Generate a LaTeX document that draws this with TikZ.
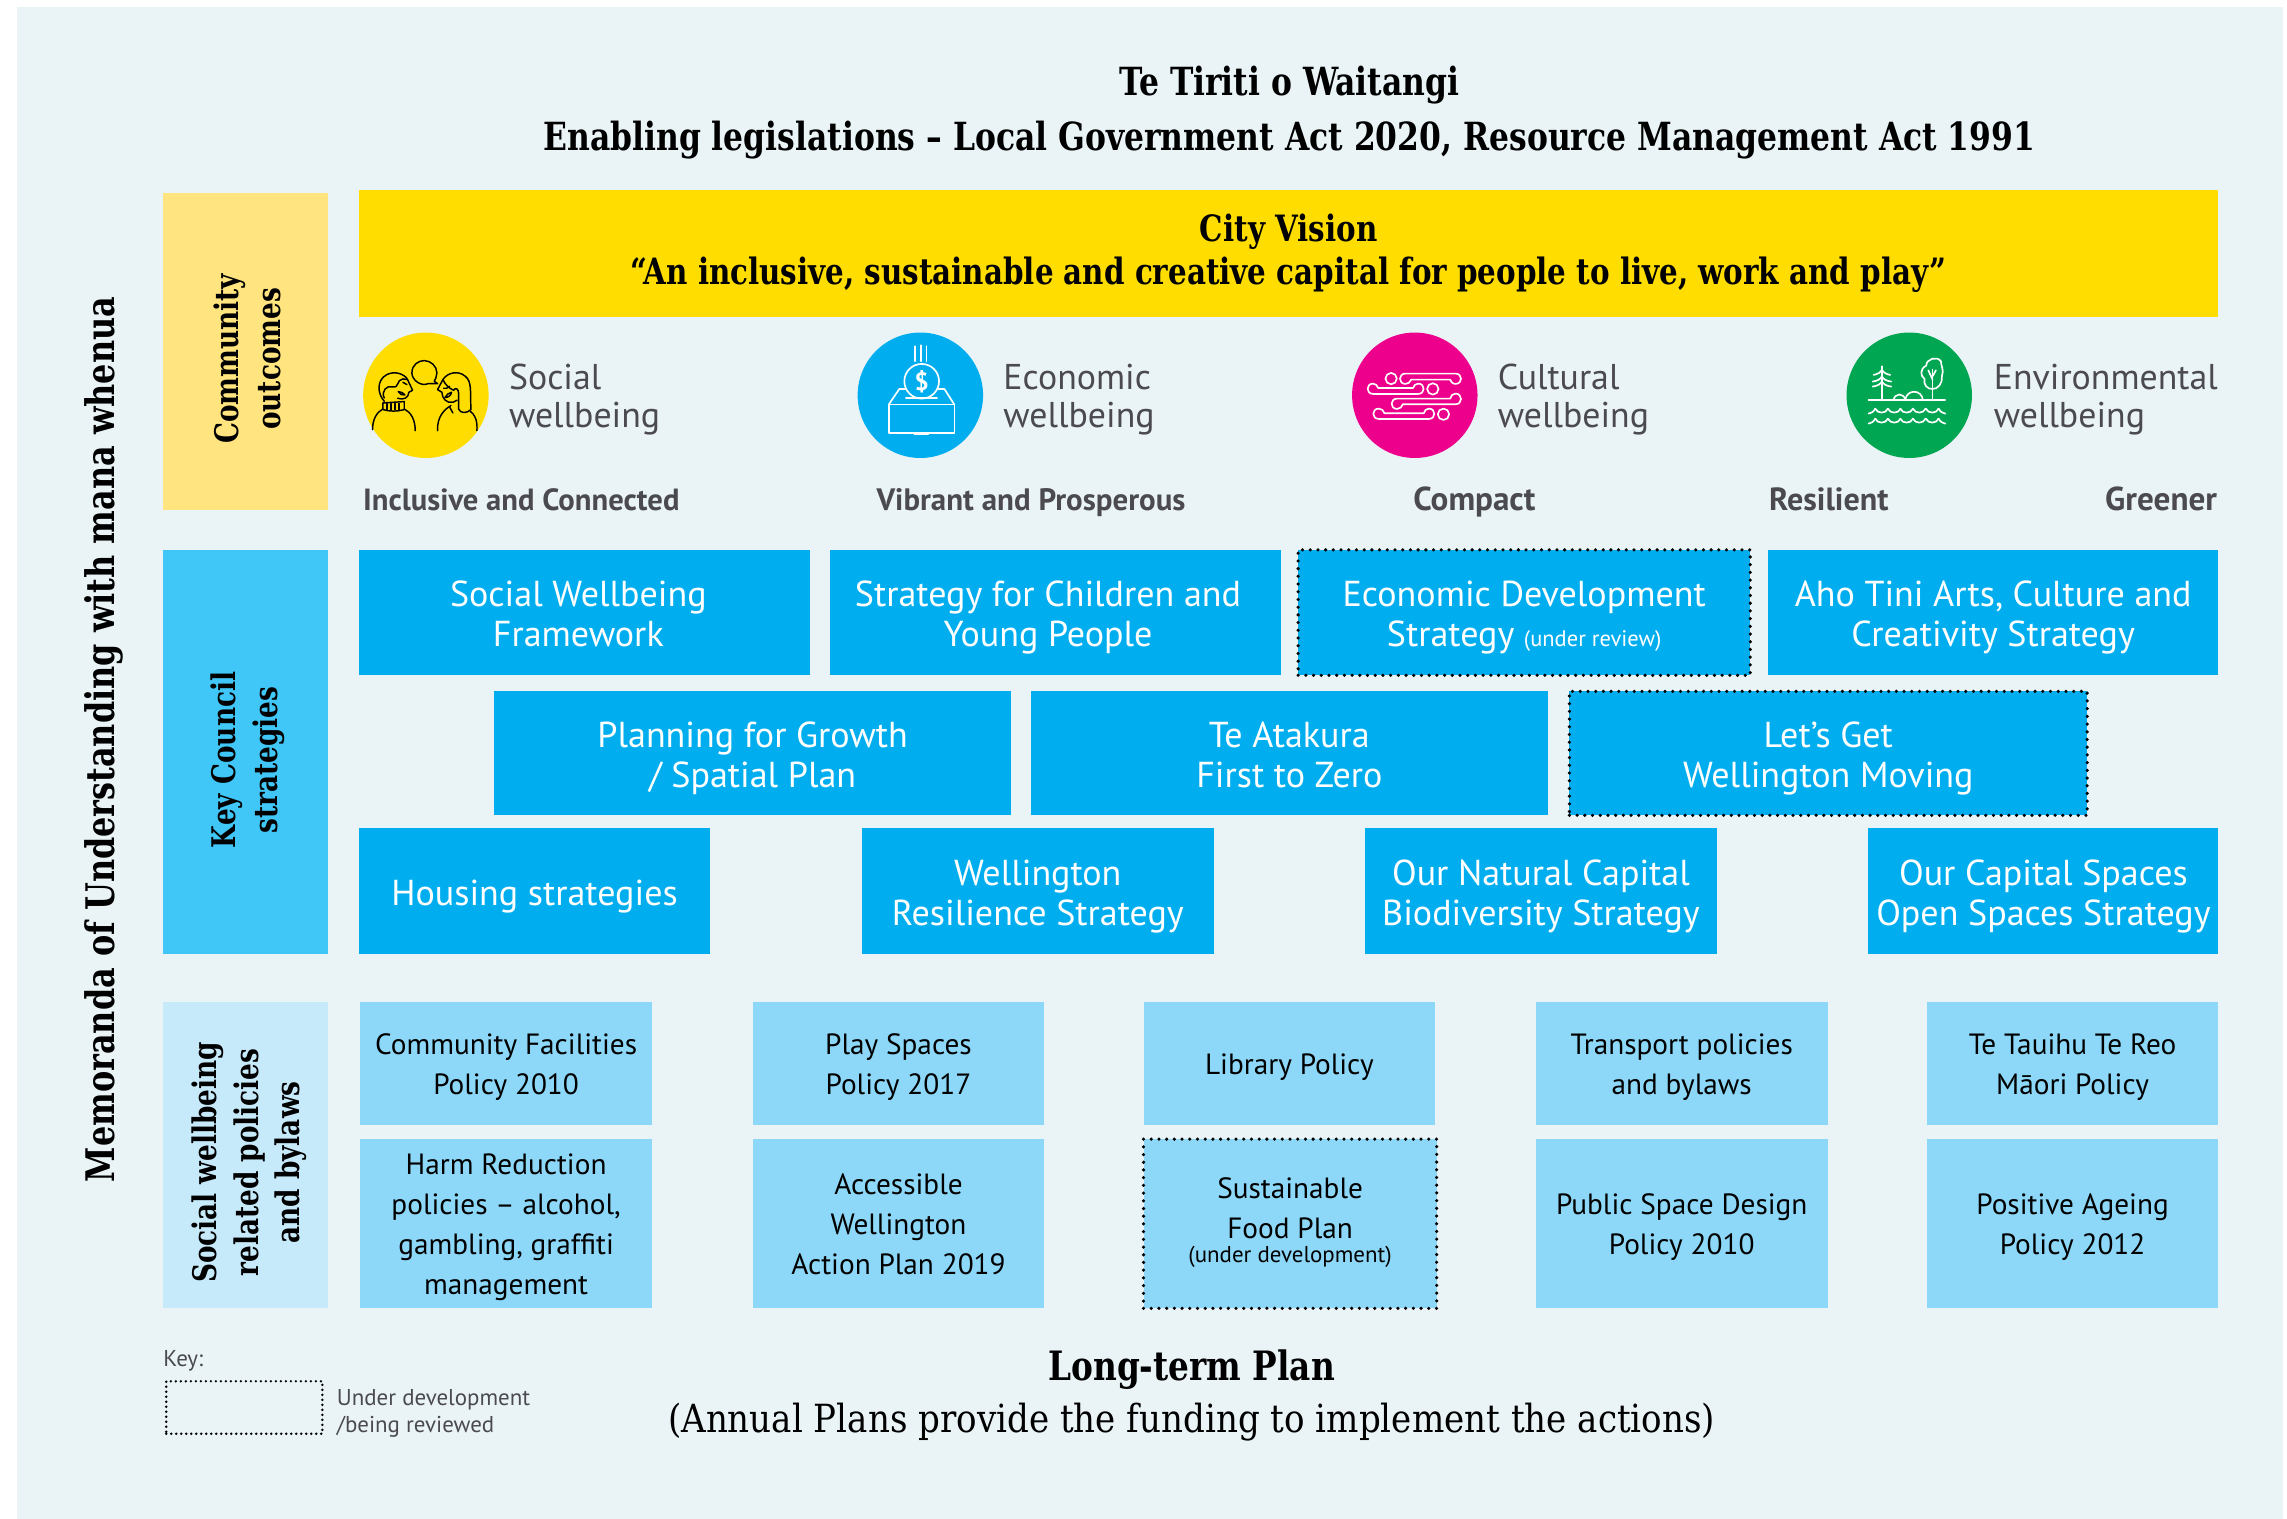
\documentclass[tikz,border=0pt]{standalone}
\usepackage{fontspec}
\setmainfont{PT Sans}
\newfontfamily\ser[FakeStretch=0.81]{DejaVu Serif}
\newfontfamily\serr[FakeStretch=0.88]{DejaVu Serif}
\definecolor{bgc}{HTML}{EAF4F7}
\definecolor{visionc}{HTML}{FFDD00}
\definecolor{commc}{HTML}{FFE480}
\definecolor{bluec}{HTML}{00AEEF}
\definecolor{keyc}{HTML}{41C6F8}
\definecolor{polc}{HTML}{8DD8F8}
\definecolor{sidec}{HTML}{C7EAFB}
\definecolor{pinkc}{HTML}{EC008C}
\definecolor{greenc}{HTML}{00A651}
\definecolor{greyt}{HTML}{4A4A4F}
\newcommand{\fsz}[2]{\fontsize{#1}{#2}\selectfont}
\newcommand{\bxH}{0pt}
\newcommand{\bxD}{0pt}
\newcommand{\bx}[7]{%
  \pgfmathsetmacro{\cxx}{(#3+#5)/2}\pgfmathsetmacro{\cyy}{(#4+#6)/2}%
  \pgfmathsetmacro{\wdd}{(#5-#3)*0.7}\pgfmathsetmacro{\htt}{(#6-#4)*0.7}%
  \node[#2,minimum width=\wdd pt,minimum height=\htt pt] (#1) at (\cxx,\cyy) {\rule{0pt}{\bxH}#7\rule[-\bxD]{0pt}{\bxD}};}
\tikzset{
  base/.style={inner sep=0pt,outer sep=0pt,align=center,anchor=center},
  strat/.style={base,fill=bluec,text=white,font=\fsz{17.3}{19.2}\renewcommand{\bxH}{17.5pt}\renewcommand{\bxD}{4.2pt}},
  pol/.style={base,fill=polc,text=black,font=\fsz{14.05}{19.2}\renewcommand{\bxH}{15.3pt}\renewcommand{\bxD}{4.5pt}},
  dots/.style={draw=black,line width=1.7pt,line cap=round,dash pattern=on 0pt off 3.7pt},
  side/.style={base,font=\ser\bfseries\fsz{15.6}{20},rotate=90},
  well/.style={inner sep=0pt,outer sep=0pt,anchor=west,align=left,text=greyt,font=\fsz{17.2}{18.3}},
  ben/.style={inner sep=0pt,outer sep=0pt,text=greyt,font=\bfseries\fsz{14.9}{16}},
  ttl/.style={inner sep=0pt,outer sep=0pt,text=black},
  ico/.style={line width=0.8pt,line cap=round,line join=round},
}
\begin{document}
\begin{tikzpicture}[x=0.7pt,y=-0.7pt]
\useasboundingbox (0,0) rectangle (1568,1041.4);
\fill[white] (0,0) rectangle (1568,1041.4);
\fill[bgc] (11.6,4.8) rectangle (1565.4,1041.4);
% titles
\node[ttl,font=\ser\bfseries\fsz{18.6}{20}] (t1) at (884,58) {Te Tiriti o Waitangi};
\node[ttl,font=\ser\bfseries\fsz{18.6}{20}] (t2) at (884,96) {Enabling legislations – Local Government Act 2020, Resource Management Act 1991};
\node[ttl,rotate=90,font=\ser\bfseries\fsz{18.9}{20}] (mem) at (71,507) {Memoranda of Understanding with mana whenua};
% left bands
\bx{comm}{base,fill=commc}{112}{132}{225}{350}{}
\bx{keyb}{base,fill=keyc}{112}{377}{225}{654}{}
\bx{socb}{base,fill=sidec}{112}{687}{225}{897}{}
\node[side] (commt) at (169.5,246) {Community\\outcomes};
\node[side] (keyt) at (170,521) {Key Council\\strategies};
\node[side] (soct) at (171,797) {Social wellbeing\\related policies\\and bylaws};
% vision
\bx{vis}{base,fill=visionc,font=\ser\bfseries\fsz{17.4}{20.6}}{246}{130}{1521}{217}{City Vision\\“An inclusive, sustainable and creative capital for people to live, work and play”}
% circles
\node[base,circle,fill=visionc,minimum size=60.2pt] (c1) at (292,271) {};
\node[base,circle,fill=bluec,minimum size=60.2pt] (c2) at (631,271) {};
\node[base,circle,fill=pinkc,minimum size=60.2pt] (c3) at (970,271) {};
\node[base,circle,fill=greenc,minimum size=60.2pt] (c4) at (1309,271) {};
% icon: people
\begin{scope}[shift={(292,271)},x=0.16pt,y=-0.16pt,shift={(-197,-197)},ico,draw=black,line width=0.7pt]
\draw (205,162) .. controls (180,172) and (155,150) .. (155,130) .. controls (155,105) and (175,93) .. (192,93) .. controls (212,93) and (230,110) .. (230,130) .. controls (230,140) and (225,150) .. (222,155) -- (232,162) -- cycle;
\draw (37,300) .. controls (37,268) and (50,248) .. (68,238);
\draw (132,238) .. controls (152,248) and (165,270) .. (165,303);
\draw (68,220) -- (132,216) -- (132,240) .. controls (110,246) and (90,246) .. (68,240) -- cycle;
\foreach \xx in {80,92,104,116}{\draw (\xx,222) -- (\xx,240);}
\draw (72,215) .. controls (50,190) and (50,150) .. (80,135) .. controls (105,122) and (135,135) .. (142,150) -- (157,182) -- (146,188) .. controls (145,205) and (130,212) .. (112,206);
\draw (72,205) .. controls (62,185) and (80,165) .. (98,172) .. controls (118,175) and (108,150) .. (128,148) -- (142,150);
\draw (128,158) -- (140,165);
\draw[fill=none] (114,186) .. controls (122,186) and (130,190) .. (134,196) .. controls (126,198) and (118,194) .. (114,186) -- cycle;
\draw (232,303) .. controls (230,265) and (250,240) .. (272,228);
\draw (330,245) .. controls (345,255) and (352,275) .. (350,303);
\draw (248,150) .. controls (262,128) and (295,122) .. (315,140) .. controls (335,155) and (330,185) .. (332,240) .. controls (320,252) and (300,252) .. (295,238) -- (295,190) .. controls (295,178) and (285,172) .. (280,182) .. controls (265,175) and (255,165) .. (248,150) -- (232,180) -- (245,188) .. controls (245,205) and (258,222) .. (278,218) -- (290,212);
\draw (250,176) .. controls (256,178) and (262,176) .. (268,170);
\draw (254,204) .. controls (258,195) and (266,190) .. (274,188) .. controls (272,198) and (264,204) .. (254,204) -- cycle;
\draw (268,232) -- (278,250);
\end{scope}
% icon: economic
\begin{scope}[shift={(631,271)},x=0.16pt,y=-0.16pt,shift={(-208,-197)},ico,draw=white]
\draw (191,50) -- (191,95) (209,47) -- (209,95) (226,50) -- (226,95);
\draw (212,155) circle [radius=52];
\node[base,text=white,font=\bfseries\fsz{12}{12}] (dollar) at (212,155) {\$};
\draw (113,225) rectangle (310,310);
\draw (113,225) -- (145,178) -- (165,178);
\draw (260,178) -- (280,178) -- (310,225);
\draw (165,205) -- (258,205);
\draw[line width=1.2pt] (190,312) -- (232,312);
\end{scope}
% icon: cultural
\begin{scope}[shift={(970,271)},x=0.16pt,y=-0.16pt,shift={(-208,-197)},ico,draw=white]
\draw (137,147) circle [radius=17] (262,178) circle [radius=17] (294,254) circle [radius=17];
\draw (180,132) -- (330,132) .. controls (352,132) and (352,163) .. (330,163) .. controls (320,163) and (316,155) .. (314,150) -- (197,150) .. controls (194,158) and (188,163) .. (180,163) .. controls (158,163) and (158,132) .. (180,132) -- cycle;
\draw (83,193) -- (218,193) .. controls (240,193) and (240,162) .. (218,162) .. controls (210,162) and (205,168) .. (203,175) -- (98,175) .. controls (96,168) and (90,162) .. (83,162) .. controls (61,162) and (61,193) .. (83,193) -- cycle;
\draw (155,207) -- (314,207) .. controls (316,198) and (322,192) .. (330,192) .. controls (352,192) and (352,224) .. (330,224) -- (172,224) .. controls (170,232) and (163,238) .. (155,238) .. controls (133,238) and (133,207) .. (155,207) -- cycle;
\draw (100,268) -- (250,268) .. controls (272,268) and (272,237) .. (250,237) .. controls (242,237) and (237,243) .. (235,251) -- (117,251) .. controls (115,243) and (108,237) .. (100,237) .. controls (78,237) and (78,268) .. (100,268) -- cycle;
\end{scope}
% icon: environmental
\begin{scope}[shift={(1309,271)},x=0.16pt,y=-0.16pt,shift={(-207,-197)},ico,draw=white]
\draw (85,212) -- (315,212);
\draw (125,110) -- (125,212);
\foreach \yy/\dd in {120/25,140/28,155/28}{
  \draw (125,\yy) .. controls (122,{\yy+8}) and (112,{\yy+14}) .. ({125-\dd},{\yy+16});
  \draw (125,\yy) .. controls (128,{\yy+8}) and (138,{\yy+14}) .. ({125+\dd},{\yy+16});}
\draw (160,212) .. controls (162,190) and (192,188) .. (195,212);
\draw (195,212) .. controls (198,178) and (245,178) .. (248,212);
\draw (277,120) -- (277,212);
\draw (277,150) -- (264,122) (277,140) -- (287,122);
\draw (277,178) .. controls (262,180) and (248,165) .. (253,148) .. controls (240,140) and (238,118) .. (258,108) .. controls (258,88) and (290,78) .. (302,95) .. controls (302,110) and (312,120) .. (305,140) .. controls (308,160) and (292,180) .. (277,178) -- cycle;
\foreach \yy in {0,30}{
\begin{scope}[yshift={-\yy*0.16pt}]
\draw (85,252) .. controls (92,251) and (100,247) .. (105,237);
\foreach \xx in {105,143,180,218,257}{
  \draw (\xx,237) .. controls ({\xx+6},253) and ({\xx+32},253) .. ({\xx+38},237);}
\draw (295,237) .. controls (300,247) and (308,251) .. (315,252);
\end{scope}}
\end{scope}
% wellbeing labels
\node[well] (w1) at (349,274) {Social\\wellbeing};
\node[well] (w2) at (688,274) {Economic\\wellbeing};
\node[well] (w3) at (1027,274) {Cultural\\wellbeing};
\node[well] (w4) at (1367,274) {Environmental\\wellbeing};
\node[ben,anchor=base west,font=\bfseries\fsz{14.7}{16}] (b1) at (249,350) {Inclusive and Connected};
\node[ben,anchor=base west,font=\bfseries\fsz{14.85}{16}] (b2) at (601,350) {Vibrant and Prosperous};
\node[ben,anchor=base west,font=\bfseries\fsz{15.9}{16}] (b3) at (969,350) {Compact};
\node[ben,anchor=base west,font=\bfseries\fsz{15.4}{16}] (b4) at (1213,350) {Resilient};
\node[ben,anchor=base east,font=\bfseries\fsz{15.9}{16}] (b5) at (1520,350) {Greener};
% strategies
\bx{s1}{strat}{246}{377}{555}{463}{\hspace*{-5.6pt}Social Wellbeing\\\hspace*{-5.6pt}Framework}
\bx{s2}{strat}{569}{377}{878}{463}{\hspace*{-7pt}Strategy for Children and\\\hspace*{-7pt}Young People}
\bx{s3}{strat,dots}{890}{377}{1200}{463}{Economic Development\\Strategy {\fsz{10.8}{12}(under review)}}
\bx{s4}{strat}{1212}{377}{1521}{463}{Aho Tini Arts, Culture and\\Creativity Strategy}
\bx{s5}{strat}{339}{474}{693}{559}{Planning for Growth\\/ Spatial Plan}
\bx{s6}{strat}{707}{474}{1061}{559}{Te Atakura\\First to Zero}
\bx{s7}{strat,dots}{1076}{474}{1431}{559}{Let’s Get\\Wellington Moving}
\bx{s8}{strat}{246}{568}{487}{654}{Housing strategies}
\bx{s9}{strat}{591}{568}{832}{654}{Wellington\\Resilience Strategy}
\bx{s10}{strat}{936}{568}{1177}{654}{Our Natural Capital\\Biodiversity Strategy}
\bx{s11}{strat}{1281}{568}{1521}{654}{Our Capital Spaces\\Open Spaces Strategy}
% policies
\bx{p1}{pol}{247}{687}{447}{771}{Community Facilities\\Policy 2010}
\bx{p2}{pol}{516}{687}{716}{771}{Play Spaces\\Policy 2017}
\bx{p3}{pol}{784}{687}{984}{771}{Library Policy}
\bx{p4}{pol}{1053}{687}{1253}{771}{Transport policies\\and bylaws}
\bx{p5}{pol}{1321}{687}{1521}{771}{Te Tauihu Te Reo\\Māori Policy}
\bx{p6}{pol}{247}{781}{447}{897}{Harm Reduction\\policies – alcohol,\\gambling, graffiti\\management}
\bx{p7}{pol}{516}{781}{716}{897}{Accessible\\Wellington\\Action Plan 2019}
\bx{p8}{pol,dots}{784}{781}{985}{897}{Sustainable\\Food Plan\\[-7.7pt]{\fsz{11}{11}(under development)}\rule[-8.7pt]{0pt}{8.7pt}}
\bx{p9}{pol}{1053}{781}{1253}{897}{Public Space Design\\Policy 2010}
\bx{p10}{pol}{1321}{781}{1521}{897}{Positive Ageing\\Policy 2012}
% key
\node[inner sep=0pt,outer sep=0pt,anchor=west,text=greyt,font=\fsz{11}{12}] (keyl) at (112,933) {Key:};
\bx{keyr}{base,draw=black,line width=1.3pt,line cap=round,dash pattern=on 0pt off 2.4pt}{114}{947}{221}{983}{}
\node[inner sep=0pt,outer sep=0pt,anchor=west,align=left,text=greyt,font=\fsz{11}{12.6}] (keyt2) at (231,969) {Under development\\/being reviewed};
% bottom
\node[ttl,font=\ser\bfseries\fsz{19.4}{20}] (lt) at (817,939) {Long-term Plan};
\node[ttl,font=\serr\fsz{18.6}{20}] (ap) at (817,975) {(Annual Plans provide the funding to implement the actions)};
\end{tikzpicture}
\end{document}
